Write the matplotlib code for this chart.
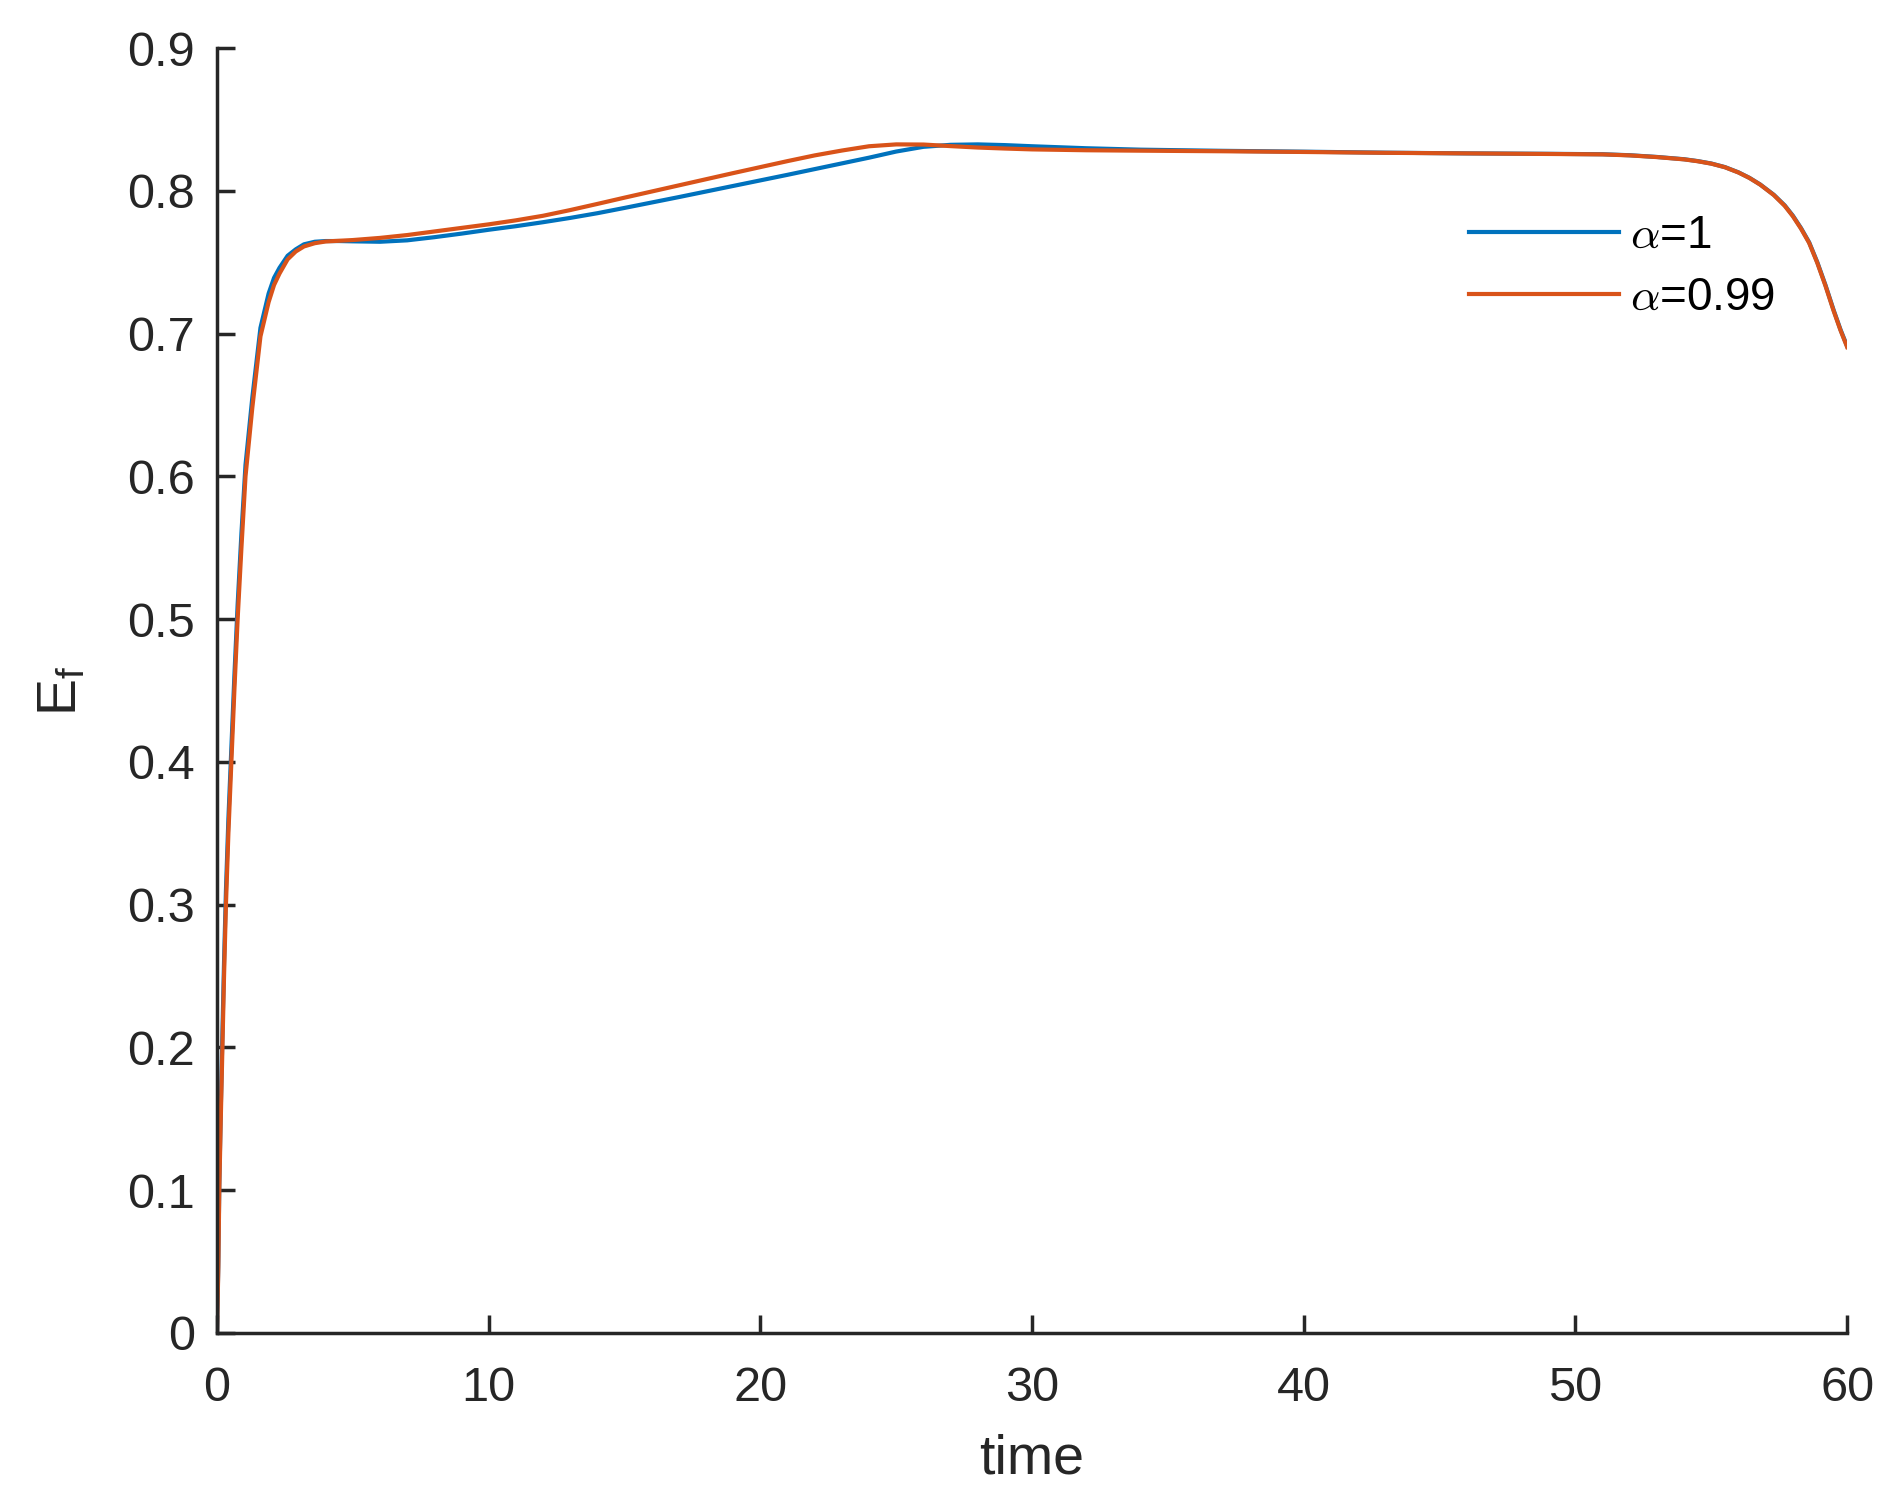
import numpy as np
import matplotlib
matplotlib.use("Agg")
import matplotlib.pyplot as plt
from matplotlib.ticker import FuncFormatter

# ================= DATA =================
t_blue = [0, 0.05, 0.085, 0.14, 0.2, 0.26, 0.33, 0.42, 0.53, 0.64, 0.76, 0.9, 1.05, 1.3,
          1.6, 1.9, 2.1, 2.3, 2.6, 2.9, 3.2, 3.6, 4.0, 4.5, 5, 6, 7, 8, 9, 10, 11, 12,
          13, 14, 15, 16, 17, 18, 19, 20, 21, 22, 23, 24, 25, 26, 27, 28, 29, 30, 32,
          34, 37, 40, 43, 46, 49, 51, 52, 53, 54, 54.5, 55, 55.5, 56, 56.4, 56.8, 57.3,
          57.7, 58, 58.3, 58.6, 58.9, 59.2, 59.5, 59.75, 60]
ef_blue = [0, 0.05, 0.105, 0.157, 0.21, 0.26, 0.31, 0.36, 0.41, 0.46, 0.51, 0.56, 0.608,
           0.655, 0.704, 0.728, 0.739, 0.746, 0.7545, 0.759, 0.7625, 0.7643, 0.7648, 0.7648,
           0.7646, 0.7643, 0.7653, 0.7675, 0.770, 0.7727, 0.7752, 0.778, 0.781, 0.7843,
           0.788, 0.7918, 0.7956, 0.7995, 0.8034, 0.8073, 0.8112, 0.8152, 0.8192, 0.8232,
           0.8275, 0.8308, 0.8322, 0.8325, 0.832, 0.8312, 0.8298, 0.8288, 0.828, 0.8274,
           0.8267, 0.8262, 0.8259, 0.8256, 0.8249, 0.8237, 0.8221, 0.8208, 0.8191, 0.8166,
           0.8129, 0.8091, 0.8044, 0.7972, 0.7898, 0.7826, 0.7739, 0.7639, 0.75, 0.734,
           0.7165, 0.703, 0.691]

t_orange = [0, 0.05, 0.085, 0.14, 0.2, 0.26, 0.33, 0.42, 0.53, 0.64, 0.76, 0.9, 1.05, 1.3,
            1.6, 1.9, 2.1, 2.3, 2.6, 2.9, 3.2, 3.6, 4.0, 4.5, 5, 6, 7, 8, 9, 10, 11, 12,
            13, 14, 15, 16, 17, 18, 19, 20, 21, 22, 23, 24, 25, 26, 27, 28, 29, 30, 32,
            34, 37, 40, 43, 46, 49, 51, 52, 53, 54, 54.5, 55, 55.5, 56, 56.4, 56.8, 57.3,
            57.7, 58, 58.3, 58.6, 58.9, 59.2, 59.5, 59.75, 60]
ef_orange = [0, 0.046, 0.10, 0.15, 0.20, 0.25, 0.30, 0.35, 0.40, 0.45, 0.50, 0.55, 0.60,
             0.648, 0.698, 0.722, 0.734, 0.742, 0.752, 0.7575, 0.761, 0.7633, 0.7645,
             0.765, 0.7655, 0.767, 0.769, 0.7715, 0.774, 0.7765, 0.7793, 0.7825, 0.7865,
             0.7908, 0.7952, 0.7995, 0.8038, 0.8081, 0.8124, 0.8166, 0.8208, 0.8248, 0.8282,
             0.8312, 0.8325, 0.8324, 0.8313, 0.8303, 0.8296, 0.829, 0.8284, 0.8281, 0.8277,
             0.8272, 0.8266, 0.8262, 0.8258, 0.8255, 0.8248, 0.8236, 0.822, 0.8207, 0.819,
             0.8165, 0.8128, 0.809, 0.8043, 0.797, 0.7895, 0.7822, 0.7735, 0.7635, 0.7495,
             0.7335, 0.716, 0.7025, 0.6905]

labels = [r"$\alpha$=1", r"$\alpha$=0.99"]
x_ticks = [0, 10, 20, 30, 40, 50, 60]
y_ticks = [0, 0.1, 0.2, 0.3, 0.4, 0.5, 0.6, 0.7, 0.8, 0.9]

# ================= STYLE =================
plt.rcParams["font.family"] = ["Liberation Sans", "DejaVu Sans"]
plt.rcParams["mathtext.fontset"] = "cm"
dark = "#262626"

fig = plt.figure(figsize=(19, 15.01), dpi=100)
ax = fig.add_axes([0.1142, 0.112, 0.858, 0.856])

ax.plot(t_blue, ef_blue, color="#0072BD", lw=3.0, label=labels[0])
ax.plot(t_orange, ef_orange, color="#D95319", lw=3.0, label=labels[1])

ax.set_xlim(0, 60)
ax.set_ylim(0, 0.9)
ax.set_xticks(x_ticks)
ax.set_yticks(y_ticks)
ax.yaxis.set_major_formatter(FuncFormatter(lambda v, p: "%g" % round(v, 2)))

for side in ["top", "right"]:
    ax.spines[side].set_visible(False)
for side in ["left", "bottom"]:
    ax.spines[side].set_linewidth(2.5)
    ax.spines[side].set_color(dark)

ax.tick_params(direction="in", length=13, width=2.5, colors=dark, labelsize=35)
ax.tick_params(axis="x", pad=24)
ax.tick_params(axis="y", pad=16)

ax.set_xlabel("time", fontsize=40, color=dark, labelpad=16)
ax.set_ylabel(r"$\mathregular{E_f}$", fontsize=40, color=dark, labelpad=28)

leg = ax.legend(loc="upper left", bbox_to_anchor=(0.768, 0.871), frameon=False,
                fontsize=33, handlelength=3.27, handletextpad=0.25, labelspacing=0.4,
                borderpad=0, borderaxespad=0)
for line in leg.get_lines():
    line.set_linewidth(3.0)

fig.savefig("out.png", dpi=100)
